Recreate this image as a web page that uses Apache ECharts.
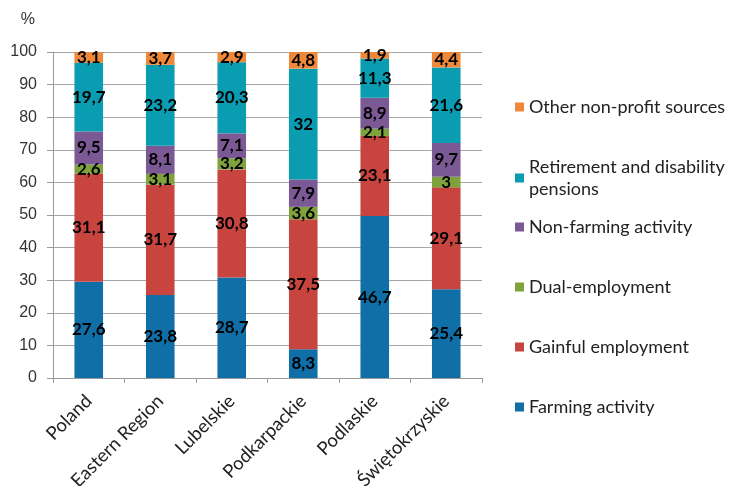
<!DOCTYPE html>
<html>
<head>
<meta charset="utf-8">
<script src="https://cdn.jsdelivr.net/npm/echarts@6/dist/echarts.min.js"></script>
<style>
  html, body { margin: 0; padding: 0; background: #fff; }
  #chart { width: 734px; height: 486px; }
</style>
</head>
<body>
<div id="chart"></div>
<script>
// Regions shown on the category axis
const regions = ['Poland', 'Eastern Region', 'Lubelskie', 'Podkarpackie', 'Podlaskie', 'Świętokrzyskie'];

// Income sources (values as reported, %)
const farmingActivity   = [27.6, 23.8, 28.7, 8.3, 46.7, 25.4];
const gainfulEmployment = [31.1, 31.7, 30.8, 37.5, 23.1, 29.1];
const dualEmployment    = [2.6, 3.1, 3.2, 3.6, 2.1, 3];
const nonFarming        = [9.5, 8.1, 7.1, 7.9, 8.9, 9.7];
const retirement        = [19.7, 23.2, 20.3, 32, 11.3, 21.6];
const otherNonProfit    = [3.1, 3.7, 2.9, 4.8, 1.9, 4.4];

const yTicks = [0, 10, 20, 30, 40, 50, 60, 70, 80, 90, 100];

const seriesDefs = [
  { name: 'Farming activity', values: farmingActivity, color: '#0f6fa6' },
  { name: 'Gainful employment', values: gainfulEmployment, color: '#c8453f' },
  { name: 'Dual-employment', values: dualEmployment, color: '#7ea33c' },
  { name: 'Non-farming activity', values: nonFarming, color: '#7b5995' },
  { name: 'Retirement and disability pensions', values: retirement, color: '#0a9db2' },
  { name: 'Other non-profit sources', values: otherNonProfit, color: '#f0883a' }
];

// Each column is scaled to 100 %, labels keep the reported figures
const totals = regions.map((_, i) => seriesDefs.reduce((s, d) => s + d.values[i], 0));

const series = seriesDefs.map(d => ({
  name: d.name,
  type: 'bar',
  stack: 'share',
  barWidth: '40%',
  itemStyle: { color: d.color },
  label: {
    show: true,
    position: 'inside',
    color: '#000',
    fontFamily: 'Lato',
    fontWeight: 'bold',
    fontSize: 17,
    formatter: p => String(d.values[p.dataIndex]).replace('.', ',')
  },
  data: d.values.map((v, i) => v / totals[i] * 100)
}));

// One legend block per entry, listed top-down in reverse stack order
const legendTops = [91, 140, 211, 271, 331, 391];
const legendOrder = seriesDefs.slice().reverse();
const legends = legendOrder.map((d, k) => {
  const isLong = d.name === 'Retirement and disability pensions';
  return {
    left: 510,
    top: legendTops[k],
    data: [d.name],
    itemWidth: 9,
    itemHeight: 9,
    itemGap: 0,
    icon: 'rect',
    selectedMode: false,
    formatter: isLong ? 'Retirement and disability\npensions' : '{name}',
    textStyle: {
      fontFamily: 'Lato',
      fontSize: 18,
      color: '#222',
      lineHeight: 22,
      padding: isLong ? [22, 0, 0, 0] : [0, 0, 0, 0]
    }
  };
});

const chart = echarts.init(document.getElementById('chart'));
chart.setOption({
  animation: false,
  backgroundColor: '#fff',
  grid: { left: 53, right: 252, top: 52, bottom: 108, outerBoundsMode: 'none', containLabel: false },
  legend: legends,
  xAxis: {
    type: 'category',
    data: regions,
    axisLine: { show: true, lineStyle: { color: '#999' } },
    axisTick: { show: true, length: 5, lineStyle: { color: '#999' } },
    axisLabel: {
      rotate: 45,
      interval: 0,
      margin: 20,
      fontFamily: 'Lato',
      fontSize: 18.5,
      color: '#222'
    }
  },
  yAxis: {
    type: 'value',
    min: 0,
    max: 100,
    interval: 10,
    name: '%',
    nameLocation: 'end',
    nameGap: 24,
    nameTextStyle: { fontFamily: 'Liberation Sans', fontSize: 16, color: '#333', align: 'right', padding: [0, 18, 0, 0] },
    axisLine: { show: true, lineStyle: { color: '#999' } },
    axisTick: { show: true, length: 6, lineStyle: { color: '#999' } },
    splitLine: { show: true, lineStyle: { color: '#a6a6a6', width: 1 } },
    axisLabel: {
      margin: 16,
      fontFamily: 'Liberation Sans',
      fontSize: 16,
      color: '#333',
      formatter: v => (yTicks.includes(v) ? String(v) : '')
    }
  },
  series: series
});
</script>
</body>
</html>
